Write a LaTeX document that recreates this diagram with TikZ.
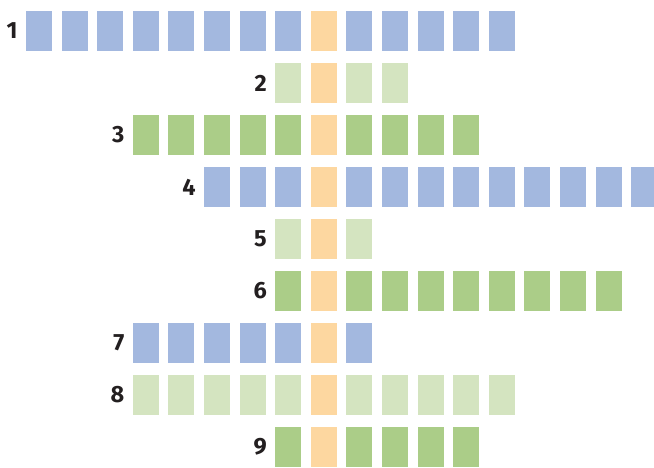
\documentclass[tikz,border=0pt]{standalone}
\usepackage{fontspec}
\setmainfont{Fira Sans}
\definecolor{blu}{HTML}{A3B8DF}
\definecolor{org}{HTML}{FDD7A0}
\definecolor{lgr}{HTML}{D4E4C0}
\definecolor{grn}{HTML}{ABCD88}
\definecolor{txt}{HTML}{231F20}
\tikzset{
  cell/.style={rectangle, inner sep=0pt, minimum width=26pt, minimum height=40pt, draw=none},
  rowlabel/.style={anchor=east, inner sep=0pt, text=txt, font=\fontsize{23.5}{25}\selectfont\bfseries}
}
\begin{document}
\begin{tikzpicture}[x=1pt,y=-1pt]
\clip (0,0) rectangle (654,467);
\useasboundingbox (0,0) rectangle (654,467);
\foreach \r/\s/\e/\c in {1/0/13/blu, 2/7/10/lgr, 3/3/12/grn, 4/5/17/blu, 5/7/9/lgr, 6/7/16/grn, 7/3/9/blu, 8/3/13/lgr, 9/7/12/grn}{
  \pgfmathsetmacro{\yc}{31+52*(\r-1)}
  \foreach \k in {\s,...,\e}{
    \pgfmathsetmacro{\xc}{39+35.6*\k}
    \ifnum\k=8
      \node[cell, fill=org] (r\r c\k) at (\xc,\yc) {};
    \else
      \node[cell, fill=\c] (r\r c\k) at (\xc,\yc) {};
    \fi
  }
  \node[rowlabel] (lab\r) at ([xshift=-8pt]r\r c\s.west) {\r};
}
\end{tikzpicture}
\end{document}
